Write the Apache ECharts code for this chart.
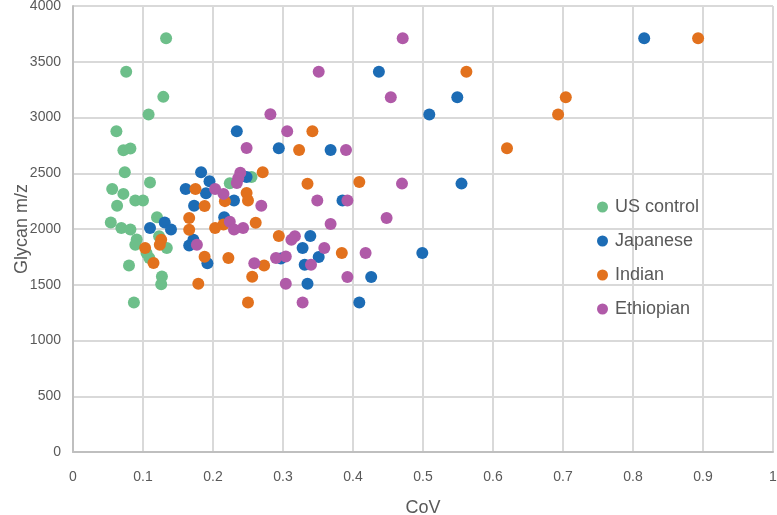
<!DOCTYPE html>
<html><head><meta charset="utf-8">
<script src="https://cdn.jsdelivr.net/npm/echarts@6/dist/echarts.min.js"></script>
<style>html,body{margin:0;padding:0;background:#fff}#c{width:777px;height:515px}</style>
</head><body><div id="c"></div>
<script>
const seriesNames = ["US control", "Japanese", "Indian", "Ethiopian"];
const xTicks = [0,0.1,0.2,0.3,0.4,0.5,0.6,0.7,0.8,0.9,1];
const yTicks = [0,500,1000,1500,2000,2500,3000,3500,4000];

const usControl = [[0.133,3710],[0.076,3410],[0.129,3185],[0.108,3026],[0.062,2877],[0.072,2706],[0.082,2721],[0.074,2510],[0.110,2418],[0.056,2359],[0.072,2315],[0.089,2256],[0.100,2256],[0.063,2209],[0.120,2105],[0.054,2059],[0.069,2009],[0.082,1996],[0.091,1906],[0.089,1859],[0.123,1934],[0.134,1829],[0.105,1784],[0.109,1739],[0.080,1672],[0.127,1574],[0.126,1505],[0.087,1341],[0.224,2410],[0.255,2467]];
const japanese = [[0.816,3711],[0.437,3410],[0.549,3182],[0.509,3026],[0.234,2877],[0.294,2724],[0.368,2709],[0.183,2510],[0.248,2467],[0.555,2407],[0.195,2428],[0.161,2359],[0.190,2320],[0.230,2256],[0.385,2256],[0.173,2209],[0.216,2105],[0.131,2059],[0.110,2009],[0.140,1996],[0.339,1937],[0.172,1904],[0.166,1853],[0.328,1829],[0.499,1784],[0.351,1748],[0.297,1735],[0.192,1692],[0.331,1679],[0.426,1569],[0.335,1509],[0.409,1341]];
const indian = [[0.893,3711],[0.562,3410],[0.704,3182],[0.693,3026],[0.342,2877],[0.620,2724],[0.323,2709],[0.271,2510],[0.409,2422],[0.335,2405],[0.175,2359],[0.248,2323],[0.250,2256],[0.217,2250],[0.188,2206],[0.166,2098],[0.261,2056],[0.215,2040],[0.203,2009],[0.166,1994],[0.294,1937],[0.126,1904],[0.124,1859],[0.103,1829],[0.384,1784],[0.188,1752],[0.222,1739],[0.115,1695],[0.273,1672],[0.256,1572],[0.179,1509],[0.250,1341]];
const ethiopian = [[0.471,3711],[0.351,3410],[0.454,3182],[0.282,3030],[0.306,2877],[0.248,2727],[0.390,2709],[0.239,2505],[0.236,2455],[0.234,2413],[0.470,2407],[0.203,2359],[0.215,2315],[0.349,2256],[0.392,2256],[0.269,2209],[0.448,2098],[0.224,2065],[0.368,2044],[0.243,2009],[0.230,1996],[0.317,1934],[0.312,1904],[0.177,1859],[0.359,1829],[0.418,1784],[0.304,1754],[0.290,1739],[0.259,1692],[0.340,1679],[0.392,1569],[0.304,1509],[0.328,1341]];

const colors = ["#6DBF8A", "#1C6CB5", "#E2711D", "#B05AA8"];
const allData = [usControl, japanese, indian, ethiopian];

const tickFont = "'Liberation Sans Narrow', 'Liberation Sans', Arial, sans-serif";
const mainFont = "'Liberation Sans', Arial, sans-serif";

const chart = echarts.init(document.getElementById('c'), null, {renderer: 'canvas'});
chart.setOption({
  animation: false,
  backgroundColor: '#fff',
  color: colors,
  grid: {left: 73, right: 4, top: 6, bottom: 63, containLabel: false, outerBoundsMode: 'none'},
  legend: {
    orient: 'vertical', left: 592, top: 192,
    itemWidth: 11, itemHeight: 11, itemGap: 14,
    icon: 'circle',
    textStyle: {fontFamily: mainFont, fontSize: 18, color: '#595959', lineHeight: 20, padding: [0,0,0,2]},
    data: seriesNames
  },
  xAxis: {
    type: 'value', min: 0, max: 1, interval: 0.1,
    name: 'CoV', nameLocation: 'middle', nameGap: 47, nameMoveOverlap: false,
    nameTextStyle: {fontFamily: mainFont, fontSize: 18, color: '#595959'},
    axisLine: {show: true, lineStyle: {color: '#BFBFBF', width: 2}},
    axisTick: {show: false},
    axisLabel: {fontFamily: tickFont, fontSize: 14, color: '#595959', margin: 18,
      formatter: v => { const t = xTicks.find(k => Math.abs(k - v) < 1e-9); return t === undefined ? '' : String(t); }},
    splitLine: {show: true, lineStyle: {color: '#D9D9D9', width: 2}}
  },
  yAxis: {
    type: 'value', min: 0, max: 4000, interval: 500,
    name: 'Glycan m/z', nameLocation: 'middle', nameGap: 42, nameMoveOverlap: false,
    nameTextStyle: {fontFamily: mainFont, fontSize: 18, color: '#595959'},
    axisLine: {show: true, lineStyle: {color: '#BFBFBF', width: 2}},
    axisTick: {show: false},
    axisLabel: {fontFamily: tickFont, fontSize: 14, color: '#595959', margin: 12,
      formatter: v => { const t = yTicks.find(k => k === v); return t === undefined ? '' : String(t); }},
    splitLine: {show: true, lineStyle: {color: '#D9D9D9', width: 2}}
  },
  series: seriesNames.map((n, i) => ({
    name: n, type: 'scatter', data: allData[i], symbol: 'circle', symbolSize: 12,
    itemStyle: {color: colors[i], opacity: 1}
  }))
});
</script></body></html>
